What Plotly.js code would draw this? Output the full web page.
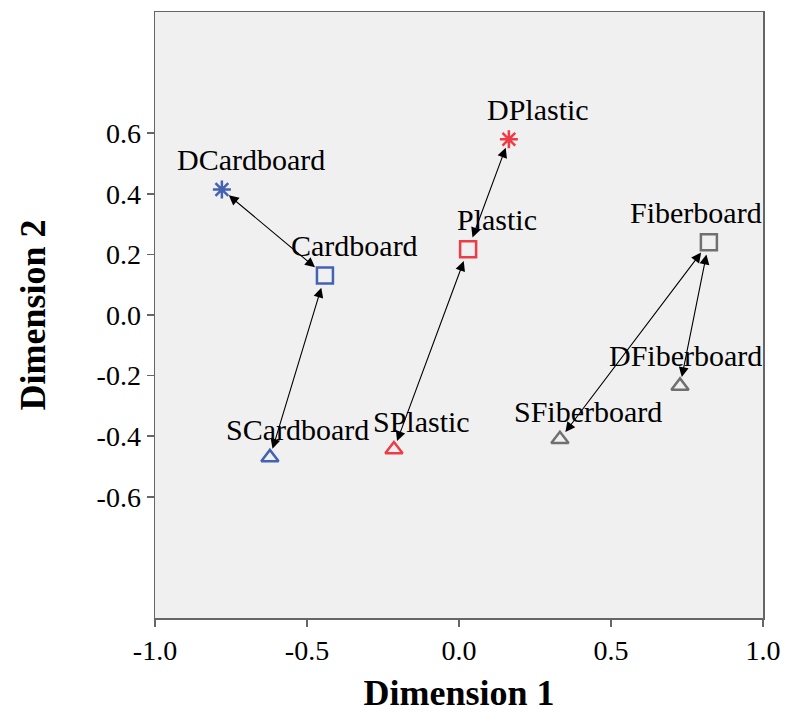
<!DOCTYPE html>
<html>
<head>
<meta charset="utf-8">
<script src="https://cdn.plot.ly/plotly-3.0.1.min.js"></script>
<style>html,body{margin:0;padding:0;background:#fff;}#chart{width:785px;height:713px;}</style>
</head>
<body>
<div id="chart"></div>
<script>
// Data
var labels = ["DCardboard", "Cardboard", "SCardboard", "DPlastic", "Plastic", "SPlastic", "Fiberboard", "DFiberboard", "SFiberboard"];
var dim1 = [-0.78, -0.441, -0.622, 0.164, 0.030, -0.214, 0.822, 0.727, 0.332];
var dim2 = [0.414, 0.130, -0.470, 0.580, 0.217, -0.444, 0.240, -0.234, -0.410];
var material = ["Cardboard", "Cardboard", "Cardboard", "Plastic", "Plastic", "Plastic", "Fiberboard", "Fiberboard", "Fiberboard"];
var kind = ["D", "base", "S", "D", "base", "S", "base", "S2", "S"];
var links = [[1, 0], [1, 2], [4, 3], [4, 5], [6, 8], [6, 7]];
var xTicks = [-1.0, -0.5, 0.0, 0.5, 1.0];
var yTicks = [-0.6, -0.4, -0.2, 0.0, 0.2, 0.4, 0.6];

// Styles
var colorOf = {"Cardboard": "#4362B3", "Plastic": "#EE3B46", "Fiberboard": "#707070"};
var symbolOf = {"D": "asterisk-open", "base": "square-open", "S": "triangle-up-open", "S2": "triangle-up-open"};
var sizeOf = {"D": 15, "base": 16, "S": 15, "S2": 15};
var labelShift = [[29, 30], [30, 30], [28, 28], [29, 30], [29, 30], [28, 28], [-13, 30], [5, 30], [28, 28]];
var standoffOf = {"D": 9, "base": 11, "S": 9, "S2": 9};
var serif = "Liberation Serif, Times New Roman, serif";

var traces = [];
for (var i = 0; i < labels.length; i++) {
  traces.push({
    type: "scatter", mode: "markers",
    x: [dim1[i]], y: [dim2[i]], name: labels[i],
    marker: {symbol: symbolOf[kind[i]], size: sizeOf[kind[i]], color: colorOf[material[i]],
             line: {color: colorOf[material[i]], width: 2.5}},
    hoverinfo: "name"
  });
}

var annotations = [];
links.forEach(function (p) {
  var a = p[0], b = p[1];
  annotations.push({
    x: dim1[b], y: dim2[b], ax: dim1[a], ay: dim2[a],
    xref: "x", yref: "y", axref: "x", ayref: "y",
    showarrow: true, arrowside: "end+start", arrowhead: 2, startarrowhead: 2,
    arrowsize: 1.8, startarrowsize: 1.8, arrowwidth: 1.1, arrowcolor: "#000",
    standoff: standoffOf[kind[b]], startstandoff: standoffOf[kind[a]], text: ""
  });
});
for (var j = 0; j < labels.length; j++) {
  annotations.push({
    x: dim1[j], y: dim2[j], xref: "x", yref: "y", text: labels[j], showarrow: false,
    xshift: labelShift[j][0], yshift: labelShift[j][1],
    font: {family: serif, size: 30, color: "#000"}
  });
}

var axisFont = {family: serif, size: 28, color: "#000"};
var layout = {
  width: 785, height: 713,
  margin: {l: 155, r: 22, t: 12, b: 95},
  paper_bgcolor: "#ffffff", plot_bgcolor: "#F0F0F0",
  showlegend: false,
  xaxis: {
    range: [-1, 1], tickvals: xTicks, ticktext: xTicks.map(function (v) { return v.toFixed(1); }),
    showgrid: false, zeroline: false, showline: true, mirror: true, linecolor: "#666", linewidth: 1.5,
    ticks: "outside", ticklen: 7, tickcolor: "#666", tickwidth: 1.5, tickfont: axisFont,
    title: {text: "Dimension 1", standoff: 18, font: {family: serif, size: 36, color: "#000", weight: "bold"}}
  },
  yaxis: {
    range: [-1, 1], tickvals: yTicks, ticktext: yTicks.map(function (v) { return v.toFixed(1); }),
    showgrid: false, zeroline: false, showline: true, mirror: true, linecolor: "#666", linewidth: 1.5,
    ticks: "outside", ticklen: 7, tickcolor: "#666", tickwidth: 1.5, tickfont: axisFont,
    title: {text: "Dimension 2", standoff: 40, font: {family: serif, size: 36, color: "#000", weight: "bold"}}
  },
  annotations: annotations
};

Plotly.newPlot("chart", traces, layout, {displayModeBar: false, staticPlot: true});
</script>
</body>
</html>
